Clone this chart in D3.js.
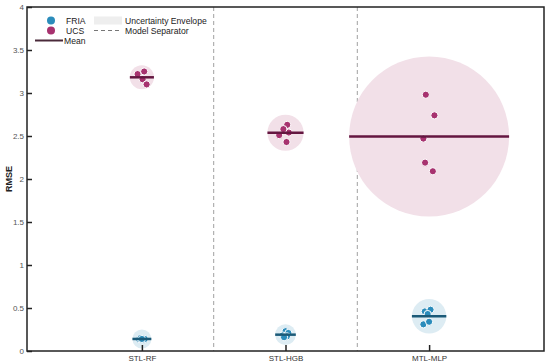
<!DOCTYPE html>
<html>
<head>
<meta charset="utf-8">
<script src="https://cdn.jsdelivr.net/npm/d3@7"></script>
<style>
  body { margin: 0; background: #fff; }
  svg { font-family: "Liberation Sans", Arial, sans-serif; }
</style>
</head>
<body>
<svg width="550" height="363"></svg>
<script>
// models along the x axis
var models = ["STL-RF", "STL-HGB", "MTL-MLP"];
var yTicks = [0, 0.5, 1, 1.5, 2, 2.5, 3, 3.5, 4];

// per-fold RMSE values
var friaValues = [
  [0.14, 0.13, 0.15, 0.14, 0.14],
  [0.23, 0.21, 0.18, 0.17, 0.16],
  [0.46, 0.48, 0.43, 0.31, 0.34]
];
var ucsValues = [
  [3.22, 3.25, 3.16, 3.10],
  [2.51, 2.63, 2.54, 2.43, 2.58],
  [2.98, 2.74, 2.47, 2.19, 2.09]
];
// small horizontal jitter of the folds (in model units)
var friaJitter = [
  [-0.02, 0.01, -0.01, 0.02, 0.0],
  [0.0, 0.02, -0.02, 0.01, -0.01],
  [-0.03, 0.01, -0.01, -0.04, 0.0]
];
var ucsJitter = [
  [-0.03, 0.016, 0.005, 0.033],
  [-0.044, 0.012, 0.023, 0.007, -0.015],
  [-0.023, 0.037, -0.04, -0.028, 0.026]
];
// size of the uncertainty envelope (RMSE units)
var friaEnvelope = [0.11, 0.12, 0.20];
var ucsEnvelope = [0.14, 0.21, 0.93];

var svg = d3.select("svg");
var plotLeft = 27, plotRight = 544, plotTop = 7, plotBottom = 351;

var x = d3.scaleLinear().domain([-0.8, 2.8]).range([plotLeft, plotRight]);
var y = d3.scaleLinear().domain([0, 4]).range([plotBottom, plotTop]);

function envR(u) { return y(0) - y(u); }

// model separators
svg.selectAll("line.sep")
  .data([0.5, 1.5])
  .enter().append("line")
  .attr("class", "sep")
  .attr("x1", function(d) { return x(d); })
  .attr("x2", function(d) { return x(d); })
  .attr("y1", plotTop).attr("y2", plotBottom)
  .style("stroke", "#a0a0a0")
  .style("stroke-width", 1)
  .style("stroke-dasharray", "4,3");

var series = [
  { values: friaValues, jitter: friaJitter, env: friaEnvelope,
    color: "#2b8cbb", dark: "#1b5a78", fill: "#ddecf3" },
  { values: ucsValues, jitter: ucsJitter, env: ucsEnvelope,
    color: "#a7326f", dark: "#641640", fill: "#f2e0e8" }
];

series.forEach(function(s) {
  var g = svg.append("g");
  var groups = s.values.map(function(vals, i) {
    return { i: i, vals: vals, mean: d3.mean(vals), env: s.env[i] };
  });

  g.selectAll("circle.env")
    .data(groups)
    .enter().append("circle")
    .attr("class", "env")
    .attr("cx", function(d) { return x(d.i); })
    .attr("cy", function(d) { return y(d.mean); })
    .attr("r", function(d) { return envR(d.env); })
    .style("fill", s.fill);

  var pts = [];
  groups.forEach(function(d) {
    d.vals.forEach(function(v, k) {
      pts.push({ x: d.i + s.jitter[d.i][k], v: v });
    });
  });

  g.selectAll("circle.pt")
    .data(pts)
    .enter().append("circle")
    .attr("class", "pt")
    .attr("cx", function(d) { return x(d.x); })
    .attr("cy", function(d) { return y(d.v); })
    .attr("r", 3.6)
    .style("fill", s.color)
    .style("stroke", "white")
    .style("stroke-width", 1);

  g.selectAll("line.mean")
    .data(groups)
    .enter().append("line")
    .attr("class", "mean")
    .attr("x1", function(d) { return x(d.i) - envR(d.env); })
    .attr("x2", function(d) { return x(d.i) + envR(d.env); })
    .attr("y1", function(d) { return y(d.mean); })
    .attr("y2", function(d) { return y(d.mean); })
    .style("stroke", s.dark)
    .style("stroke-width", 2.5);
});

// axes
var yAxis = d3.axisLeft(y).tickValues(yTicks).tickSize(-5).tickPadding(3)
  .tickFormat(function(d) { return String(d); });
var gy = svg.append("g").attr("transform", "translate(" + plotLeft + ",0)").call(yAxis);

var xAxis = d3.axisBottom(x).tickValues([0, 1, 2]).tickSize(-6).tickPadding(3)
  .tickFormat(function(d) { return models[d]; });
var gx = svg.append("g").attr("transform", "translate(0," + plotBottom + ")").call(xAxis);

[gy, gx].forEach(function(g) {
  g.select(".domain").remove();
  g.selectAll(".tick line").style("stroke", "#222").style("stroke-width", 1.5);
  g.selectAll(".tick text").style("font-size", "8px").style("fill", "#555");
});
gx.selectAll(".tick text").attr("dy", "0.9em").style("fill", "#333");

// frame
svg.append("rect")
  .attr("x", plotLeft).attr("y", plotTop)
  .attr("width", plotRight - plotLeft).attr("height", plotBottom - plotTop)
  .style("fill", "none").style("stroke", "#222").style("stroke-width", 1.5);

svg.append("text")
  .attr("transform", "translate(12," + y(2) + ") rotate(-90)")
  .attr("text-anchor", "middle")
  .style("font-size", "9px").style("font-weight", "bold").style("fill", "#222")
  .text("RMSE");

// legend
var lg = svg.append("g").style("font-size", "8.6px").style("fill", "#222");
lg.append("circle").attr("cx", 51).attr("cy", 20.5).attr("r", 4).style("fill", "#2b8cbb");
lg.append("text").attr("x", 66).attr("y", 23.5).text("FRIA");
lg.append("circle").attr("cx", 51).attr("cy", 30.5).attr("r", 4).style("fill", "#a7326f");
lg.append("text").attr("x", 66).attr("y", 33.5).text("UCS");
lg.append("line").attr("x1", 35).attr("x2", 63).attr("y1", 40.5).attr("y2", 40.5)
  .style("stroke", "#4a2a3a").style("stroke-width", 2);
lg.append("text").attr("x", 64).attr("y", 43.5).text("Mean");
lg.append("rect").attr("x", 94).attr("y", 16.5).attr("width", 28).attr("height", 8)
  .style("fill", "#eeeeee");
lg.append("text").attr("x", 125).attr("y", 23.5).text("Uncertainty Envelope");
lg.append("line").attr("x1", 94).attr("x2", 122).attr("y1", 30.5).attr("y2", 30.5)
  .style("stroke", "#777").style("stroke-width", 1).style("stroke-dasharray", "4,3");
lg.append("text").attr("x", 125).attr("y", 33.5).text("Model Separator");
</script>
</body>
</html>
